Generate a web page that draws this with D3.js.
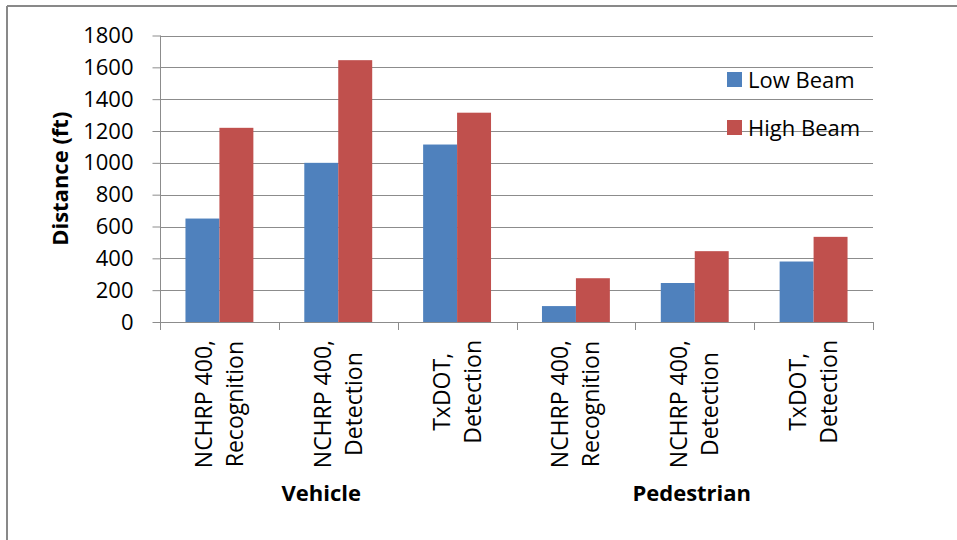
<!DOCTYPE html>
<html>
<head>
<meta charset="utf-8">
<script src="https://cdn.jsdelivr.net/npm/d3@7"></script>
<style>
  html, body { margin: 0; padding: 0; background: #fff; }
  svg { display: block; }
  text { font-family: "Open Sans", "Noto Sans", sans-serif; fill: #000; }
</style>
</head>
<body>
<svg id="chart" width="957" height="540"></svg>
<script>
// ---- data ----
const categoryLines = [
  ["NCHRP 400,", "Recognition"],
  ["NCHRP 400,", "Detection"],
  ["TxDOT,", "Detection"],
  ["NCHRP 400,", "Recognition"],
  ["NCHRP 400,", "Detection"],
  ["TxDOT,", "Detection"]
];
const categoryGroup = ["Vehicle", "Vehicle", "Vehicle", "Pedestrian", "Pedestrian", "Pedestrian"];
const groups = ["Vehicle", "Pedestrian"];
const seriesNames = ["Low Beam", "High Beam"];
const lowBeam = [650, 1000, 1115, 100, 245, 380];
const highBeam = [1220, 1645, 1315, 275, 445, 535];
const yTicks = [0, 200, 400, 600, 800, 1000, 1200, 1400, 1600, 1800];
const yTitle = "Distance (ft)";

// ---- styles / layout ----
const colors = ["#4F81BD", "#C0504D"];
const gridColor = "#8c8c8c";
const fontSize = 22;
const catFontSize = 23;
const plot = { left: 160, right: 873, top: 35.5, bottom: 322 };

const svg = d3.select("#chart");

// outer frame (top and left edges visible)
svg.append("line").attr("x1", 7).attr("x2", 957).attr("y1", 6).attr("y2", 6)
  .attr("stroke", "#898989").attr("stroke-width", 2);
svg.append("line").attr("x1", 7).attr("x2", 7).attr("y1", 6).attr("y2", 540)
  .attr("stroke", "#898989").attr("stroke-width", 2);

const keys = d3.range(categoryLines.length);
const x0 = d3.scaleBand().domain(keys).range([plot.left, plot.right]).paddingInner(0).paddingOuter(0);
const x1 = d3.scaleBand().domain(seriesNames).range([0, x0.bandwidth()]).paddingInner(0).paddingOuter(0.75);
const y = d3.scaleLinear().domain([0, 1800]).range([plot.bottom, plot.top]);

// gridlines
svg.append("g").selectAll("line").data(yTicks.filter(d => d > 0)).join("line")
  .attr("x1", plot.left).attr("x2", plot.right)
  .attr("y1", d => Math.round(y(d)) + 0.5).attr("y2", d => Math.round(y(d)) + 0.5)
  .attr("stroke", gridColor).attr("stroke-width", 1);

// y axis
const yAxis = svg.append("g").attr("transform", `translate(${plot.left + 0.5},0)`)
  .call(d3.axisLeft(y).tickValues(yTicks).tickSize(8).tickPadding(19).tickFormat(d3.format("d")));
yAxis.select(".domain").attr("stroke", gridColor).attr("d", `M0,${plot.top}V${plot.bottom}`);
yAxis.selectAll(".tick line").attr("stroke", gridColor);
yAxis.selectAll(".tick text").attr("font-size", fontSize).attr("font-family", "Open Sans").attr("fill", "#000");

// bars
const series = [lowBeam, highBeam];
const barG = svg.append("g");
seriesNames.forEach((s, si) => {
  barG.selectAll(null).data(keys).join("rect")
    .attr("x", k => x0(k) + x1(s))
    .attr("y", k => y(series[si][k]))
    .attr("width", x1.bandwidth())
    .attr("height", k => y(0) - y(series[si][k]))
    .attr("fill", colors[si]);
});

// x axis line and ticks at category boundaries
const boundaries = keys.map(k => x0(k)).concat([plot.right]);
svg.append("line").attr("x1", plot.left).attr("x2", plot.right)
  .attr("y1", plot.bottom + 0.5).attr("y2", plot.bottom + 0.5).attr("stroke", gridColor);
svg.append("g").selectAll("line").data(boundaries).join("line")
  .attr("x1", d => Math.round(d) + 0.5).attr("x2", d => Math.round(d) + 0.5)
  .attr("y1", plot.bottom).attr("y2", plot.bottom + 8).attr("stroke", gridColor);

// category labels (rotated, two lines)
const labelTop = 340;
keys.forEach(k => {
  const cx = x0(k) + x0.bandwidth() / 2;
  const g = svg.append("g");
  const texts = categoryLines[k].map((line, li) =>
    g.append("text").text(line).attr("font-size", catFontSize).attr("text-anchor", "middle")
      .attr("y", li === 0 ? -7.5 : 23.5));
  const maxLen = d3.max(texts, t => t.node().getComputedTextLength());
  g.attr("transform", `translate(${cx},${labelTop + maxLen / 2}) rotate(-90)`);
});

// group labels
const groupDx = [-17, -3];
groups.forEach((gname, gi) => {
  const ks = keys.filter(k => categoryGroup[k] === gname);
  const gx = (x0(ks[0]) + x0(ks[ks.length - 1]) + x0.bandwidth()) / 2 + groupDx[gi];
  svg.append("text").text(gname).attr("x", gx).attr("y", 501)
    .attr("text-anchor", "middle").attr("font-size", fontSize).attr("font-weight", "bold");
});

// y title
svg.append("text").text(yTitle)
  .attr("transform", `translate(68,${(plot.top + plot.bottom) / 2}) rotate(-90)`)
  .attr("text-anchor", "middle").attr("font-size", fontSize).attr("font-weight", "bold");

// legend
const legendY = [72, 120];
seriesNames.forEach((s, si) => {
  svg.append("rect").attr("x", 727).attr("y", legendY[si]).attr("width", 15).attr("height", 15)
    .attr("fill", colors[si]);
  svg.append("text").text(s).attr("x", 748).attr("y", legendY[si] + 15.5)
    .attr("font-size", fontSize);
});
</script>
</body>
</html>
